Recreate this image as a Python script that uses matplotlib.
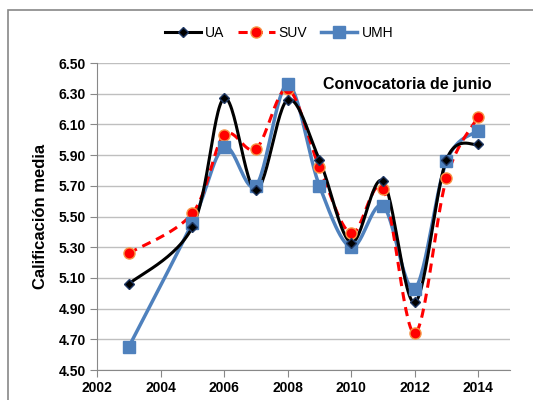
import numpy as np
import matplotlib
matplotlib.use("Agg")
import matplotlib.pyplot as plt
from matplotlib.patches import Rectangle

plt.rcParams['font.family'] = ['Liberation Sans', 'DejaVu Sans']

years = [2003, 2005, 2006, 2007, 2008, 2009, 2010, 2011, 2012, 2013, 2014]
ua = [5.06, 5.43, 6.27, 5.67, 6.26, 5.87, 5.33, 5.73, 4.94, 5.87, 5.97]
suv = [5.26, 5.52, 6.03, 5.94, 6.33, 5.82, 5.39, 5.68, 4.74, 5.75, 6.15]
umh = [4.65, 5.46, 5.95, 5.70, 6.36, 5.70, 5.30, 5.57, 5.03, 5.86, 6.06]

x_ticks = [2002, 2004, 2006, 2008, 2010, 2012, 2014]
y_ticks = [4.50, 4.70, 4.90, 5.10, 5.30, 5.50, 5.70, 5.90, 6.10, 6.30, 6.50]


# Excel style smoothed line (Catmull-Rom through the data points)
def smooth(xs, ys, n=30):
    p = np.column_stack([xs, ys]).astype(float)
    p = np.vstack([p[0], p, p[-1]])
    out = []
    t = np.linspace(0, 1, n)[:, None]
    for i in range(1, len(p) - 2):
        p0, p1, p2, p3 = p[i - 1], p[i], p[i + 1], p[i + 2]
        c1 = p1 + (p2 - p0) / 6
        c2 = p2 - (p3 - p1) / 6
        seg = ((1 - t) ** 3) * p1 + 3 * ((1 - t) ** 2) * t * c1 + 3 * (1 - t) * t ** 2 * c2 + t ** 3 * p2
        out.append(seg)
    seg = np.vstack(out)
    return seg[:, 0], seg[:, 1]


fig = plt.figure(figsize=(5.33, 4.0), dpi=100)
fig.patches.append(Rectangle((8 / 533, -0.05), 1.1, 1 - 10 / 400 + 0.05, transform=fig.transFigure,
                             fill=False, edgecolor='#888888', lw=1.2))
ax = fig.add_axes([97 / 533, 1 - 370 / 400, 413 / 533, 307 / 400])

blue = '#4F81BD'
sx, sy = smooth(years, ua)
ax.plot(sx, sy, color='black', lw=2.2, zorder=4)
ax.plot(years, ua, ls='none', marker='D', ms=5, mfc='black', mec='#1F3864', zorder=6)

sx, sy = smooth(years, suv)
ax.plot(sx, sy, color='red', lw=2.2, ls=(0, (3, 2)), zorder=3)
ax.plot(years, suv, ls='none', marker='o', ms=8, mfc='red', mec='#F79646', zorder=5)

sx, sy = smooth(years, umh)
ax.plot(sx, sy, color=blue, lw=2.5, zorder=2)
ax.plot(years, umh, ls='none', marker='s', ms=9, mfc=blue, mec=blue, zorder=5)

# legend handles
ax.plot([], [], color='black', lw=2.2, marker='D', ms=5, mfc='black', mec='#1F3864', label='UA')
ax.plot([], [], color='red', lw=2.2, ls=(0, (3, 2)), marker='o', ms=8, mfc='red', mec='#F79646', label='SUV')
ax.plot([], [], color=blue, lw=2.5, marker='s', ms=9, mfc=blue, mec=blue, label='UMH')
fig.legend(*ax.get_legend_handles_labels()[0:2], loc='center', bbox_to_anchor=(279 / 533, 1 - 33 / 400),
           ncol=3, frameon=False, fontsize=10, handlelength=2.6, columnspacing=1.0, handletextpad=0.3)

ax.set_xlim(2002, 2015)
ax.set_ylim(4.5, 6.5)
ax.set_xticks(x_ticks)
ax.set_yticks(y_ticks)
ax.set_yticklabels([f'{v:.2f}' for v in y_ticks])
for lab in ax.get_xticklabels() + ax.get_yticklabels():
    lab.set_fontweight('bold')
    lab.set_fontsize(10)
ax.grid(axis='y', color='#BFBFBF', lw=1)
ax.set_axisbelow(True)
for s in ['top', 'right']:
    ax.spines[s].set_visible(False)
for s in ['left', 'bottom']:
    ax.spines[s].set_color('#888888')
ax.tick_params(axis='both', color='#888888', length=5, pad=3)
ax.set_ylabel('Calificación media', fontsize=12, fontweight='bold', labelpad=8)

ax.text(0.955, 0.93, 'Convocatoria de junio', transform=ax.transAxes, ha='right', va='center',
        fontsize=11.5, fontweight='bold')

fig.savefig('out.png', dpi=100)
